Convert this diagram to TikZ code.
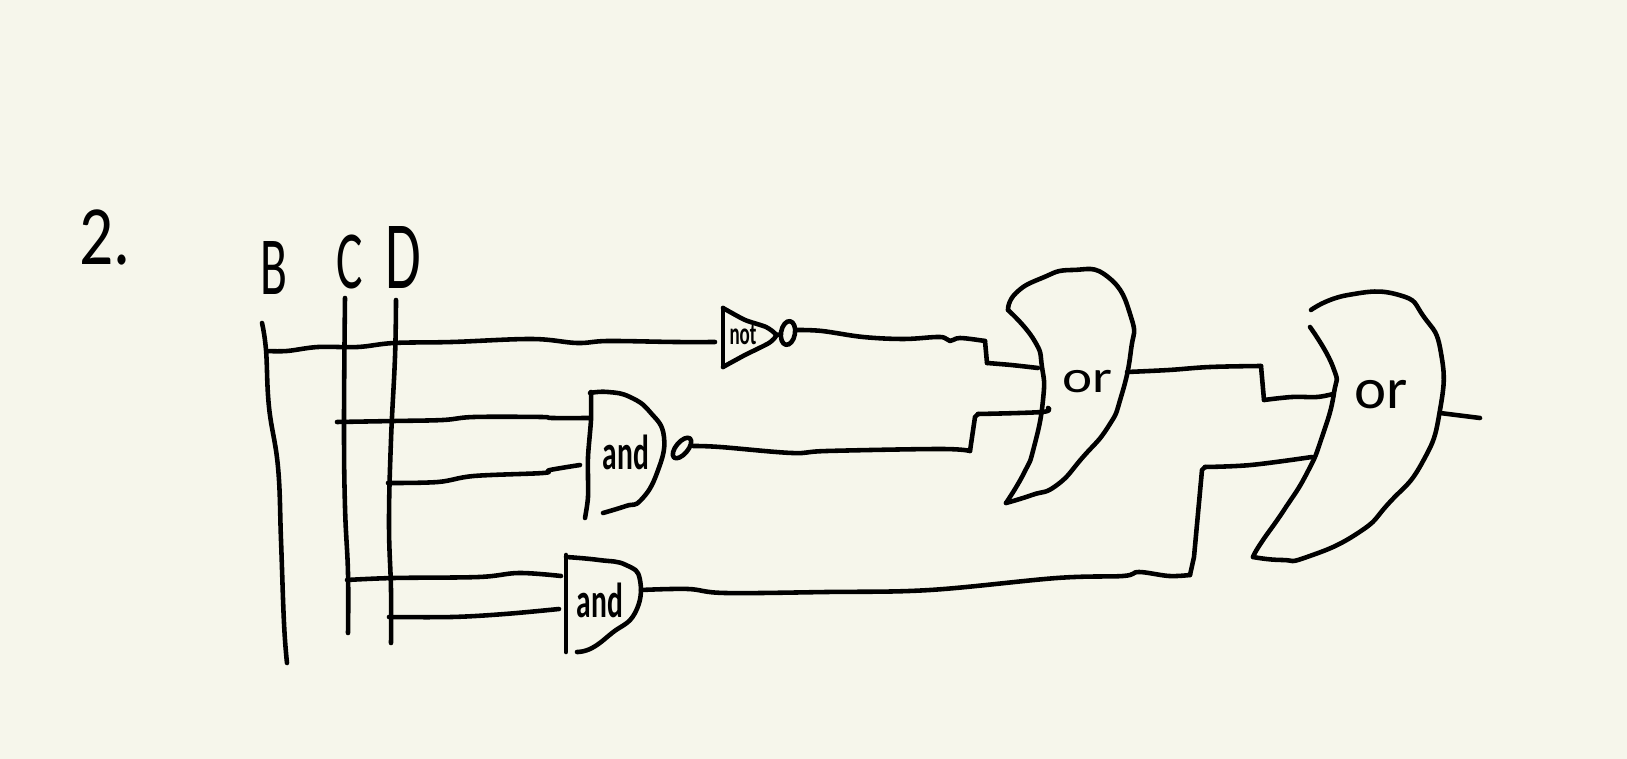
\documentclass[tikz,border=0pt]{standalone}
\usepackage{fontspec}
\setmainfont{Carlito}
\usetikzlibrary{shapes.geometric}
\definecolor{paper}{HTML}{F6F6EB}
\tikzset{
  pen/.style={line width=2.6pt, line cap=round, line join=round, black},
  hand/.style={font=\fontsize{#1}{#1}\selectfont, inner sep=0pt, transform shape},
  smallhand/.style={font=\fontsize{#1}{#1}\selectfont\bfseries, inner sep=0pt, transform shape, xscale=.6},
  bubble/.style={pen, draw, ellipse, inner sep=0pt}
}
\begin{document}
\begin{tikzpicture}[x=0.02cm, y=-0.02cm]
  \fill[paper] (0,0) rectangle (1627,759);
  \useasboundingbox (0,0) rectangle (1627,759);
  % Labels
  \node[hand=48, xscale=.8] (num) at (105,237) {2.};
  \node[hand=47, xscale=.6] (lblB) at (274,268) {B};
  \node[hand=47, xscale=.6] (lblC) at (350,262) {C};
  \node[hand=55, xscale=.6] (lblD) at (403,258) {D};
  \node[smallhand=18] (notText) at (743,335) {not};
  \node[smallhand=28] (andTop) at (626,452) {and};
  \node[smallhand=28] (andLow) at (600,600) {and};
  \node[hand=26, xscale=1.25] (orLeft) at (1087,382) {or};
  \node[hand=33, xscale=1.05] (orRight) at (1381,395) {or};
  \node[bubble, minimum width=25pt*.567, minimum height=12pt*.567, rotate=50] (bubAnd) at (682,448) {};
  \node[bubble, minimum width=24pt*.567, minimum height=14pt*.567, rotate=80] (bubNot) at (788,333) {};
  % Input rails
  \coordinate (bTop) at (262,323);
  \coordinate (bEnd) at (287,663);
  \coordinate (cTop) at (345,298);
  \coordinate (cEnd) at (348,633);
  \coordinate (dTop) at (396,300);
  \coordinate (dEnd) at (391,643);
  \draw[pen] plot[smooth, tension=.7] coordinates {(bTop) (266,350) (269,407) (278,467) (281,540) (284,623) (bEnd)};
  \draw[pen] plot[smooth, tension=.7] coordinates {(cTop) (344,423) (345,507) (348,573) (cEnd)};
  \draw[pen] plot[smooth, tension=.7] coordinates {(dTop) (395,357) (391,440) (389,523) (391,590) (dEnd)};
  % Gates
  \draw[pen] (723,308) -- (723,367);
  \draw[pen] plot[smooth, tension=.4] coordinates {(723,308) (745,320) (766,327) (776,335) (769,343) (745,355) (723,367)};
  \draw[pen] (776,335) -- (bubNot);
  \draw[pen] plot[smooth, tension=.4] coordinates {(591,392) (591,420) (588,457) (588,497) (585,518)};
  \draw[pen] plot[smooth, tension=.8] coordinates {(590,393) (608,392) (630,397) (650,412) (664,437) (657,473) (641,500) (626,506) (603,513)};
  \draw[pen] (566,555) -- (566,652);
  \draw[pen] plot[smooth, tension=.8] coordinates {(566,557) (599,560) (626,565) (640,580) (635,613) (612,633) (592,648) (577,652)};
  \draw[pen] plot[smooth, tension=.9] coordinates {(1008,310) (1016,293) (1042,278) (1072,270) (1108,277) (1131,317) (1131,350) (1121,397) (1108,427) (1083,457) (1057,485) (1032,495) (1006,503)};
  \draw[pen] plot[smooth, tension=.9] coordinates {(1008,310) (1034,340) (1042,367) (1043,400) (1034,447) (1024,473) (1006,503)};
  \draw[pen] plot[smooth, tension=.9] coordinates {(1311,310) (1348,295) (1399,295) (1424,317) (1441,353) (1440,410) (1422,463) (1389,503) (1358,533) (1307,557) (1282,560) (1253,557)};
  \draw[pen] plot[smooth, tension=.9] coordinates {(1310,327) (1333,367) (1334,393) (1322,437) (1307,473) (1284,510) (1261,543) (1253,557)};
  % Wire ends
  \coordinate (bOut) at (267,351);
  \coordinate (notIn) at (715,342);
  \coordinate (cOutA) at (337,422);
  \coordinate (andTopA) at (590,418);
  \coordinate (dOutA) at (388,483);
  \coordinate (andTopB) at (580,465);
  \coordinate (cOutB) at (347,580);
  \coordinate (andLowA) at (561,576);
  \coordinate (dOutB) at (389,617);
  \coordinate (andLowB) at (559,609);
  \coordinate (orLeftA) at (1038,368);
  \coordinate (orLeftB) at (1048,408);
  \coordinate (orLeftOut) at (1127,372);
  \coordinate (orRightA) at (1333,394);
  \coordinate (orRightB) at (1312,457);
  \coordinate (orRightOut) at (1440,413);
  \coordinate (finalEnd) at (1480,418);
  \coordinate (andLowOut) at (641,590);
  \coordinate (notOut) at (797,330);
  \coordinate (andTopOut) at (693,446);
  % Wires
  \draw[pen] plot[smooth, tension=.6] coordinates {(bOut) (287,351) (318,347) (358,347) (394,343) (452,342) (532,339) (577,343) (608,341) (675,342) (notIn)};
  \draw[pen] plot[smooth, tension=.6] coordinates {(cOutA) (394,421) (443,420) (474,417) (541,417) (552,418) (andTopA)};
  \draw[pen] plot[smooth, tension=.6] coordinates {(dOutA) (438,482) (474,476) (543,473) (550,470) (andTopB)};
  \draw[pen] plot[smooth, tension=.6] coordinates {(cOutB) (394,578) (479,577) (519,573) (andLowA)};
  \draw[pen] plot[smooth, tension=.6] coordinates {(dOutB) (452,617) (505,614) (andLowB)};
  \draw[pen] plot[smooth, tension=.6] coordinates {(notOut) (822,331) (863,337) (904,339) (940,337) (950,341) (960,338) (985,341)};
  \draw[pen] (985,341) -- (987,363);
  \draw[pen] plot[smooth, tension=.6] coordinates {(987,363) (1011,365) (orLeftA)};
  \draw[pen] plot[smooth, tension=.6] coordinates {(andTopOut) (720,447) (792,453) (827,451) (940,449) (970,451)};
  \draw[pen] (970,451) -- (975,417) -- (978,414);
  \draw[pen] plot[smooth, tension=.6] coordinates {(978,414) (1042,412) (orLeftB)};
  \draw[pen] plot[smooth, tension=.6] coordinates {(orLeftOut) (1169,370) (1210,367) (1261,366)};
  \draw[pen] (1261,366) -- (1264,400);
  \draw[pen] plot[smooth, tension=.6] coordinates {(1264,400) (1292,397) (1317,397) (orRightA)};
  \draw[pen] plot[smooth, tension=.6] coordinates {(andLowOut) (688,589) (725,593) (827,592) (930,590) (1057,578) (1123,576) (1139,572) (1169,576) (1190,575)};
  \draw[pen] (1190,575) -- (1194,557) -- (1202,470) -- (1205,467);
  \draw[pen] plot[smooth, tension=.6] coordinates {(1205,467) (1251,465) (orRightB)};
  \draw[pen] (orRightOut) -- (finalEnd);
\end{tikzpicture}
\end{document}
